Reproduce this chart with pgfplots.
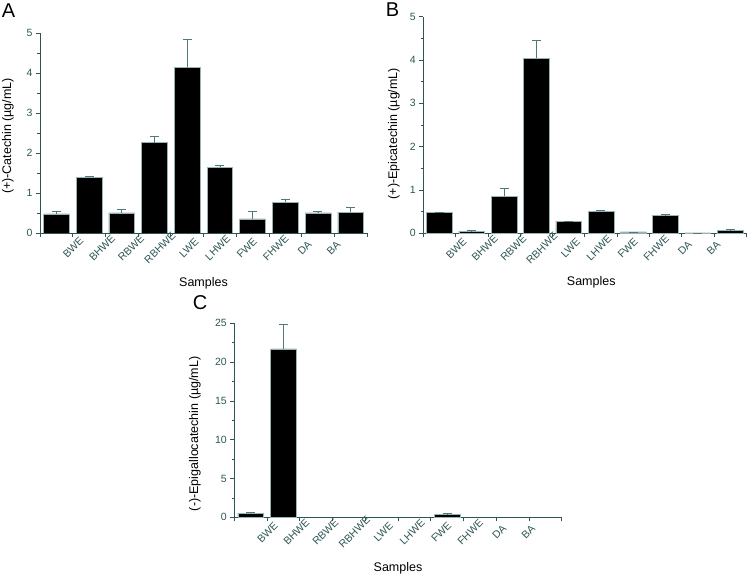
\documentclass[border=0pt]{standalone}
\usepackage{fontspec}
\setmainfont{Liberation Sans}
\usepackage{pgfplots}
\pgfplotsset{compat=1.18}
\definecolor{axc}{RGB}{45,85,85}
\definecolor{errc}{RGB}{80,120,120}
\definecolor{edgec}{RGB}{150,180,180}
\pgfplotsset{
  panel/.style={
    scale only axis,
    axis x line=bottom, axis y line=left,
    axis line style={-, draw=axc, line width=0.7pt},
    tick style={draw=axc, line width=0.7pt},
    tick align=outside,
    major tick length=4pt, minor tick length=2.5pt,
    xmin=0.5, xmax=10.5, ymin=0,
    xtick={0.5,1.5,2.5,3.5,4.5,5.5,6.5,7.5,8.5,9.5,10.5},
    xticklabels={},
    extra x ticks={1.06,1.945,2.83,3.715,4.6,5.485,6.37,7.255,8.14,9.025},
    extra x tick labels={BWE,BHWE,RBWE,RBHWE,LWE,LHWE,FWE,FHWE,DA,BA},
    extra x tick style={major tick length=0pt, tick style={draw=none},
      xticklabel style={rotate=45, anchor=center, yshift=-21pt}},
    xticklabel style={font=\fontsize{10.5}{11}\selectfont, text=axc},
    yticklabel style={font=\fontsize{10.5}{11}\selectfont, text=axc},
    /pgf/number format/assume math mode=true,
    minor y tick num=1,
    label style={font=\fontsize{12.5}{13}\selectfont},
    ybar, bar width=25.7pt,
  },
  blk/.style={ybar, bar shift=0pt, fill=black, draw=edgec, line width=0.5pt,
    error bars/.cd, y dir=plus, y explicit,
    error bar style={draw=errc, line width=0.7pt},
    error mark options={draw=errc, line width=0.7pt, mark size=4.5pt, rotate=90}},
}
\begin{document}
\begin{tikzpicture}
\useasboundingbox (0pt,0pt) rectangle (748pt,576pt);
% Panel A
\begin{axis}[panel, at={(40pt,343pt)}, anchor=south west,
  width=327pt, height=200pt, ymax=5, ytick={0,1,2,3,4,5},
  xlabel={Samples}, ylabel={(+)-Catechin (µg/mL)},
  xlabel style={at={(axis description cs:0.5,-0.25)}, anchor=center},
  ylabel style={at={(axis description cs:-0.098,0.485)}, anchor=center}]
\addplot[blk] coordinates {(1,0.48) +- (0,0.06) (2,1.39) +- (0,0.03) (3,0.50) +- (0,0.08)
 (4,2.26) +- (0,0.15) (5,4.14) +- (0,0.70) (6,1.64) +- (0,0.06) (7,0.35) +- (0,0.18)
 (8,0.77) +- (0,0.06) (9,0.50) +- (0,0.04) (10,0.52) +- (0,0.11)};
\end{axis}
% Panel B
\begin{axis}[panel, at={(423.3pt,342.7pt)}, anchor=south west,
  width=323pt, height=216.7pt, ymax=5, ytick={0,1,2,3,4,5},
  xlabel={Samples}, ylabel={(+)-Epicatechin (µg/mL)},
  xlabel style={at={(axis description cs:0.52,-0.228)}, anchor=center},
  ylabel style={at={(axis description cs:-0.091,0.46)}, anchor=center}]
\addplot[blk] coordinates {(1,0.48) +- (0,0.01) (2,0.05) +- (0,0.01) (3,0.85) +- (0,0.18)
 (4,4.04) +- (0,0.42) (5,0.28) +- (0,0.0) (6,0.51) +- (0,0.02) (7,0.03) +- (0,0.0)
 (8,0.41) +- (0,0.02) (9,0.01) +- (0,0.0) (10,0.06) +- (0,0.04)};
\end{axis}
% Panel C
\begin{axis}[panel, at={(234.3pt,58.7pt)}, anchor=south west,
  width=327.4pt, height=194pt, ymax=25, ytick={0,5,10,15,20,25},
  xlabel={Samples}, ylabel={(-)-Epigallocatechin (µg/mL)},
  xlabel style={at={(axis description cs:0.5,-0.263)}, anchor=center},
  ylabel style={at={(axis description cs:-0.12,0.43)}, anchor=center}]
\addplot[blk] coordinates {(1,0.55) +- (0,0.15) (2,21.7) +- (0,3.2) (7,0.35) +- (0,0.1)};
\end{axis}
\node[font=\fontsize{20}{20}\selectfont] at (8.5pt,565.5pt) {A};
\node[font=\fontsize{20}{20}\selectfont] at (392.5pt,566.5pt) {B};
\node[font=\fontsize{20}{20}\selectfont] at (200pt,273.5pt) {C};
\end{tikzpicture}
\end{document}
